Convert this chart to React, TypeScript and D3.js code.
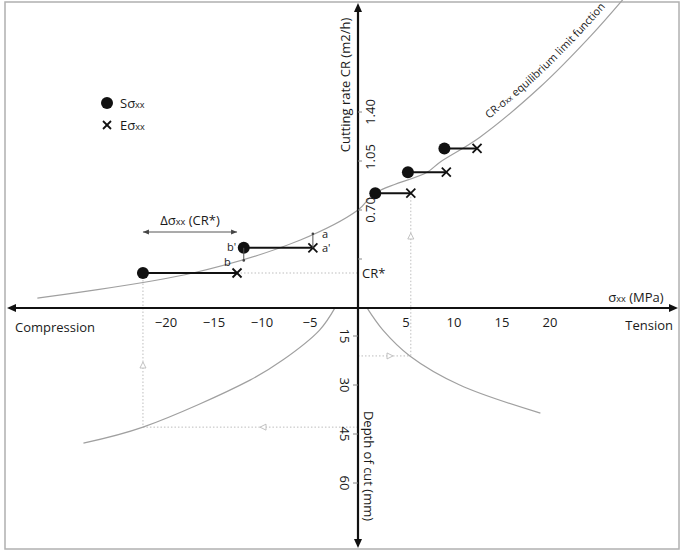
import React from "react";
import * as d3 from "d3";

const W = 685;
const H = 551;

// tick values
const sigmaTicks = [-20, -15, -10, -5, 5, 10, 15, 20];
const crTicks = [0.35, 0.7, 1.05, 1.4];
const crTickLabels = ["", "0.70", "1.05", "1.40"];
const depthTicks = [15, 30, 45, 60];

// S (start) and E (end) points
const sStart = [-22.4, -11.9, 1.8, 5.2, 9.0];
const eEnd = [-12.6, -4.7, 5.5, 9.2, 12.4];
const crLevels = [0.25, 0.43, 0.82, 0.97, 1.14];

// CR–σxx equilibrium limit function
const limitSigma = [-33.4, -17.2, -6.0, 0, 1.77, 7.2, 8.5, 12.7, 19.0, 24.2, 27.8];
const limitCR = [0.071, 0.25, 0.486, 0.7, 0.82, 0.97, 1.04, 1.22, 1.58, 1.94, 2.22];

// depth of cut curves
const leftSigma = [-2.4, -4.0, -7.8, -11.25, -22.4, -28.6];
const leftDepth = [6.4, 13.2, 22.3, 28.5, 42.9, 47.8];
const rightSigma = [0.94, 2.6, 5.4, 10.6, 19.0];
const rightDepth = [6.4, 13.2, 21.1, 30.0, 38.6];

// annotation values
const crStar = 0.25;
const aCR = 0.53;
const bCR = 0.34;
const depthLeft = 42.9;
const depthRight = 21.1;

const FONT = "'Open Sans', 'Noto Sans', sans-serif";
const TXT = "#1a1a1a";

export default function App() {
  const x = d3.scaleLinear().domain([0, 10]).range([358, 454]);
  const yCR = d3.scaleLinear().domain([0, 1.4]).range([308, 112]);
  const yD = d3.scaleLinear().domain([15, 60]).range([336, 483]);

  const limitPts: [number, number][] = limitSigma.map((s, i) => [x(s), yCR(limitCR[i])]);
  const line = d3.line().curve(d3.curveCatmullRom.alpha(0.5));
  const limitPath = line(limitPts) || "";
  const textPts: [number, number][] = limitPts.slice(7).map(([px, py]) => [px - 5, py - 7]);
  const textPath = line(textPts) || "";
  const leftPath = line(leftSigma.map((s, i) => [x(s), yD(leftDepth[i])] as [number, number])) || "";
  const rightPath = line(rightSigma.map((s, i) => [x(s), yD(rightDepth[i])] as [number, number])) || "";

  const x0 = x(0);
  const yAxis = yCR(0);
  const dotted = { stroke: "#bdbdbd", strokeWidth: 1, strokeDasharray: "1.5,2", fill: "none" };
  const curveStyle = { stroke: "#a0a0a0", strokeWidth: 1.2, fill: "none" };

  const tri = (cx: number, cy: number, dir: "up" | "left" | "right") => {
    const s = 3;
    let pts = "";
    if (dir === "up") pts = `${cx},${cy - s} ${cx - s},${cy + s} ${cx + s},${cy + s}`;
    if (dir === "left") pts = `${cx - s},${cy} ${cx + s},${cy - s} ${cx + s},${cy + s}`;
    if (dir === "right") pts = `${cx + s},${cy} ${cx - s},${cy - s} ${cx - s},${cy + s}`;
    return <polygon points={pts} fill="white" stroke="#bbb" strokeWidth={0.9} />;
  };

  const cross = (cx: number, cy: number, r: number) => (
    <g stroke="#111" strokeWidth={1.8}>
      <line x1={cx - r} y1={cy - r} x2={cx + r} y2={cy + r} />
      <line x1={cx - r} y1={cy + r} x2={cx + r} y2={cy - r} />
    </g>
  );

  return (
    <svg width={W} height={H} style={{ position: "absolute", left: 0, top: 0, background: "white" }} fontFamily={FONT}>
      <rect x={5} y={2} width={674} height={547} fill="white" stroke="#b0b0b0" strokeWidth={1.5} />

      {/* dotted helper lines */}
      <line x1={x(sStart[0])} y1={yCR(crLevels[0])} x2={x(sStart[0])} y2={yD(depthLeft)} style={dotted} />
      <line x1={x(sStart[0])} y1={yD(depthLeft)} x2={x0} y2={yD(depthLeft)} style={dotted} />
      <line x1={x(eEnd[0])} y1={yCR(crStar)} x2={x0} y2={yCR(crStar)} style={dotted} />
      <line x1={x(eEnd[2])} y1={yCR(crLevels[2])} x2={x(eEnd[2])} y2={yD(depthRight)} style={dotted} />
      <line x1={x0} y1={yD(depthRight)} x2={x(eEnd[2])} y2={yD(depthRight)} style={dotted} />
      {tri(x(sStart[0]), 365, "up")}
      {tri(263, yD(depthLeft), "left")}
      {tri(x(eEnd[2]), 236, "up")}
      {tri(390, yD(depthRight), "right")}

      {/* curves */}
      <path d={limitPath} style={curveStyle} />
      <path d={leftPath} style={curveStyle} />
      <path d={rightPath} style={curveStyle} />
      <path id="lblpath" d={textPath} fill="none" stroke="none" />
      <text fontSize={10.8} fill={TXT}>
        <textPath href="#lblpath" startOffset="49%" textAnchor="middle">
          CR-σ<tspan fontSize="0.7em">xx</tspan> equilibrium limit function
        </textPath>
      </text>

      {/* axes */}
      <line x1={12} y1={yAxis} x2={672} y2={yAxis} stroke="#111" strokeWidth={2.2} />
      <polygon points={`7,${yAxis} 16,${yAxis - 4} 16,${yAxis + 4}`} fill="#111" />
      <polygon points={`678,${yAxis} 669,${yAxis - 4} 669,${yAxis + 4}`} fill="#111" />
      <line x1={x0} y1={9} x2={x0} y2={542} stroke="#111" strokeWidth={2.2} />
      <polygon points={`${x0},3 ${x0 - 4},12 ${x0 + 4},12`} fill="#111" />
      <polygon points={`${x0},548 ${x0 - 4},539 ${x0 + 4},539`} fill="#111" />

      {/* x tick labels */}
      {sigmaTicks.map((v) => (
        <text key={v} x={x(v)} y={322} fontSize={13} textAnchor="middle" dominantBaseline="central" fill={TXT}>
          {v < 0 ? `−${Math.abs(v)}` : v}
        </text>
      ))}

      {/* CR ticks */}
      {crTicks.map((v, i) => (
        <g key={v}>
          <line x1={x0} x2={x0 + 4} y1={yCR(v)} y2={yCR(v)} stroke="#888" strokeWidth={1} />
          {crTickLabels[i] && (
            <text transform={`translate(370,${yCR(v) - (i === 2 ? 4 : 0)}) rotate(-90)`} fontSize={13} textAnchor="middle" dominantBaseline="central" fill={TXT}>
              {crTickLabels[i]}
            </text>
          )}
        </g>
      ))}

      {/* depth ticks */}
      {depthTicks.map((v) => (
        <g key={v}>
          <line x1={x0 - 5} x2={x0} y1={yD(v)} y2={yD(v)} stroke="#888" strokeWidth={1} />
          <text transform={`translate(345,${yD(v)}) rotate(90)`} fontSize={13} textAnchor="middle" dominantBaseline="central" fill={TXT}>
            {v}
          </text>
        </g>
      ))}

      {/* axis titles */}
      <text transform="translate(345,85) rotate(-90)" fontSize={13} textAnchor="middle" dominantBaseline="central" fill={TXT}>
        Cutting rate CR (m2/h)
      </text>
      <text transform="translate(369,466) rotate(90)" fontSize={13} textAnchor="middle" dominantBaseline="central" fill={TXT}>
        Depth of cut (mm)
      </text>
      <text x={636} y={302} fontSize={13} textAnchor="middle" fill={TXT}>
        σ<tspan fontSize="0.7em">xx</tspan> (MPa)
      </text>
      <text x={673} y={330} fontSize={13} textAnchor="end" fill={TXT}>Tension</text>
      <text x={15} y={332} fontSize={13} fill={TXT}>Compression</text>
      <text x={362} y={278} fontSize={13} fill={TXT}>CR*</text>

      {/* S -> E segments */}
      {sStart.map((s, i) => (
        <g key={i}>
          <line x1={x(s)} y1={yCR(crLevels[i])} x2={x(eEnd[i])} y2={yCR(crLevels[i])} stroke="#111" strokeWidth={2} />
          <circle cx={x(s)} cy={yCR(crLevels[i])} r={6} fill="#111" />
          {cross(x(eEnd[i]), yCR(crLevels[i]), 4.5)}
        </g>
      ))}

      {/* a / b annotations */}
      <line x1={x(eEnd[1])} y1={yCR(crLevels[1])} x2={x(eEnd[1])} y2={yCR(aCR)} stroke="#555" strokeWidth={1} />
      <circle cx={x(eEnd[1])} cy={yCR(aCR)} r={1.3} fill="#444" />
      <line x1={x(sStart[1])} y1={yCR(crLevels[1])} x2={x(sStart[1])} y2={yCR(bCR)} stroke="#555" strokeWidth={1} />
      <circle cx={x(sStart[1])} cy={yCR(bCR)} r={1.3} fill="#444" />
      <text x={322} y={238} fontSize={11} fill={TXT}>a</text>
      <text x={322} y={252} fontSize={11} fill={TXT}>a'</text>
      <text x={227} y={251} fontSize={11} fill={TXT}>b'</text>
      <text x={224} y={266} fontSize={11} fill={TXT}>b</text>

      {/* delta sigma arrow */}
      <line x1={x(sStart[0])} y1={232} x2={x(eEnd[0])} y2={232} stroke="#444" strokeWidth={0.9} />
      <polygon points={`${x(sStart[0])},232 ${x(sStart[0]) + 6},229.5 ${x(sStart[0]) + 6},234.5`} fill="#444" />
      <polygon points={`${x(eEnd[0])},232 ${x(eEnd[0]) - 6},229.5 ${x(eEnd[0]) - 6},234.5`} fill="#444" />
      <text x={190} y={225} fontSize={13} textAnchor="middle" fill={TXT}>
        Δσ<tspan fontSize="0.7em">xx</tspan> (CR*)
      </text>

      {/* legend */}
      <circle cx={107} cy={103} r={6} fill="#111" />
      {cross(107, 125, 4)}
      <text x={120} y={108} fontSize={13} fill={TXT}>
        Sσ<tspan fontSize="0.7em">xx</tspan>
      </text>
      <text x={120} y={130} fontSize={13} fill={TXT}>
        Eσ<tspan fontSize="0.7em">xx</tspan>
      </text>
    </svg>
  );
}
